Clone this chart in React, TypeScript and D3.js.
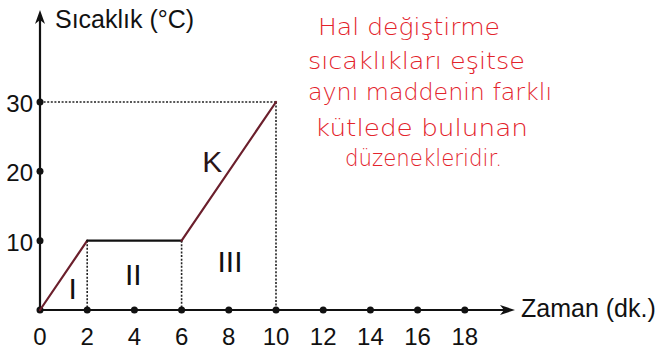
import React from "react";
import * as d3 from "d3";

const xTicks = [0, 2, 4, 6, 8, 10, 12, 14, 16, 18];
const yTicks = [10, 20, 30];
const times = [0, 2, 6, 10];
const temps = [0, 10, 10, 30];
const segColors = ["#6b1f2c", "#111111", "#6b1f2c"];
const regionLabels = [
  { text: "I", x: 1.38, y: 3.2 },
  { text: "II", x: 3.95, y: 5.25 },
  { text: "III", x: 8.05, y: 7.0 },
];
const noteLines = [
  "Hal değiştirme",
  "sıcaklıkları eşitse",
  "aynı maddenin farklı",
  "kütlede bulunan",
  "düzenekleridir.",
];
const noteX = [318, 308, 308, 315, 345];
const noteW = [182, 217, 244, 213, 157];
const noteY = [35, 69, 100, 136, 166];

export default function App() {
  const x = d3.scaleLinear().domain([0, 10]).range([40, 276]);
  const y = d3.scaleLinear().domain([0, 30]).range([310, 102]);
  const font = "'Liberation Sans', Arial, sans-serif";
  const dotted = "2 1.6";
  const line = d3.line<[number, number]>().x((d) => x(d[0])).y((d) => y(d[1]));
  const segs = times.slice(0, -1).map((t, i) => [
    [t, temps[i]],
    [times[i + 1], temps[i + 1]],
  ] as [number, number][]);
  return (
    <svg width={662} height={354} style={{ position: "absolute", left: 0, top: 0, background: "#fff" }}>
      {/* dotted guides */}
      <line x1={x(0)} x2={x(10)} y1={y(30)} y2={y(30)} stroke="#222" strokeWidth={1.6} strokeDasharray={dotted} />
      <line x1={x(10)} x2={x(10)} y1={y(30)} y2={y(0)} stroke="#222" strokeWidth={1.6} strokeDasharray={dotted} />
      <line x1={x(2)} x2={x(2)} y1={y(10)} y2={y(0)} stroke="#222" strokeWidth={1.6} strokeDasharray={dotted} />
      <line x1={x(6)} x2={x(6)} y1={y(10)} y2={y(0)} stroke="#222" strokeWidth={1.6} strokeDasharray={dotted} />
      {/* axes */}
      <line x1={x(0)} x2={x(0)} y1={y(0)} y2={16} stroke="#111" strokeWidth={2.2} />
      <path d={`M${x(0) - 5},${24} L${x(0)},${10} L${x(0) + 5},${24} L${x(0)},${20} Z`} fill="#111" />
      <line x1={x(0)} x2={508} y1={y(0)} y2={y(0)} stroke="#111" strokeWidth={2.2} />
      <path d={`M${500},${y(0) - 5} L${515},${y(0)} L${500},${y(0) + 5} L${504},${y(0)} Z`} fill="#111" />
      {/* tick dots */}
      {xTicks.map((t) => (
        <circle key={"xd" + t} cx={x(t)} cy={y(0)} r={3.5} fill="#111" />
      ))}
      {yTicks.map((t) => (
        <circle key={"yd" + t} cx={x(0)} cy={y(t)} r={3.5} fill="#111" />
      ))}
      {/* tick labels */}
      {xTicks.map((t) => (
        <text key={"xl" + t} x={x(t)} y={345} textAnchor="middle" fontFamily={font} fontSize={24} fill="#111">
          {t}
        </text>
      ))}
      {yTicks.map((t) => (
        <text key={"yl" + t} x={33} y={y(t) + 10} textAnchor="end" fontFamily={font} fontSize={24} fill="#111">
          {t}
        </text>
      ))}
      {/* data line */}
      {segs.map((s, i) => (
        <path key={"s" + i} d={line(s) || ""} stroke={segColors[i]} strokeWidth={2.2} fill="none" strokeLinecap="round" />
      ))}
      {/* labels */}
      {regionLabels.map((r) => (
        <text key={r.text} x={x(r.x)} y={y(r.y) + 11} textAnchor="middle" fontFamily={font} fontSize={30} fill="#111">
          {r.text}
        </text>
      ))}
      <text x={x(7.3)} y={y(21.5) + 11} textAnchor="middle" fontFamily={font} fontSize={30} fill="#2a1418">
        K
      </text>
      <text x={55} y={28} fontFamily={font} fontSize={25} fill="#111">
        Sıcaklık (°C)
      </text>
      <text x={521} y={317} fontFamily={font} fontSize={25} fill="#111">
        Zaman (dk.)
      </text>
      {/* handwritten note */}
      {noteLines.map((l, i) => (
        <text
          key={"n" + i}
          x={noteX[i]}
          y={noteY[i]}
          textLength={noteW[i]}
          lengthAdjust="spacingAndGlyphs"
          fontFamily="'DejaVu Sans', sans-serif"
          fontWeight={300}
          fontSize={23}
          fill="#e3232b"
        >
          {l}
        </text>
      ))}
    </svg>
  );
}
